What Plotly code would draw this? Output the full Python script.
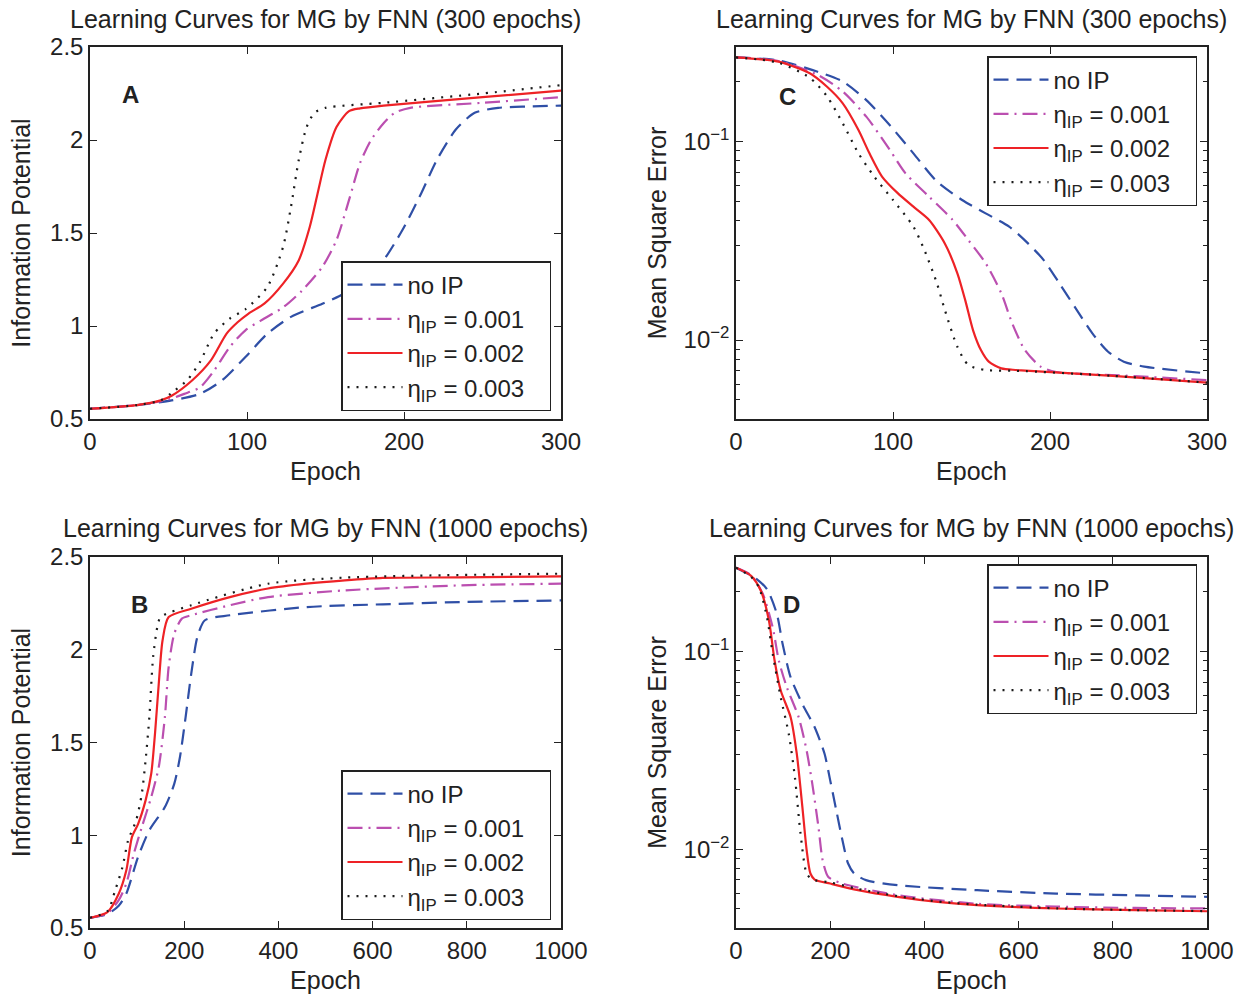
import plotly.graph_objects as go
import numpy as np

# ---------------- data ----------------
series_names = ["no IP", "η<sub>IP</sub> = 0.001", "η<sub>IP</sub> = 0.002", "η<sub>IP</sub> = 0.003"]

# Panel A: Information Potential, 300 epochs
a_ep_noip = [0, 30, 52, 70, 84, 99, 113, 128, 148, 162, 177, 187, 199, 211, 221, 233, 245, 260, 280, 300]
a_noip = [0.555, 0.575, 0.60, 0.635, 0.707, 0.833, 0.959, 1.049, 1.12, 1.175, 1.265, 1.354, 1.516, 1.714, 1.894, 2.056, 2.146, 2.173, 2.18, 2.185]
a_ep_001 = [0, 30, 50, 60, 70, 79, 89, 99, 111, 123, 135, 148, 157, 165, 172, 179, 187, 194, 204, 250, 300]
a_001 = [0.555, 0.575, 0.605, 0.635, 0.67, 0.76, 0.887, 0.977, 1.04, 1.10, 1.19, 1.318, 1.462, 1.678, 1.876, 2.0, 2.09, 2.146, 2.173, 2.2, 2.23]
a_ep_002 = [0, 30, 45, 52, 65, 77, 87, 94, 101, 111, 123, 133, 140, 145, 150, 157, 165, 172, 187, 250, 300]
a_002 = [0.555, 0.575, 0.60, 0.625, 0.707, 0.815, 0.959, 1.02, 1.067, 1.12, 1.228, 1.354, 1.534, 1.714, 1.894, 2.07, 2.155, 2.17, 2.185, 2.23, 2.265]
a_ep_003 = [0, 30, 45, 52, 62, 70, 79, 89, 99, 113, 123, 128, 133, 138, 143, 150, 187, 250, 300]
a_003 = [0.555, 0.575, 0.60, 0.64, 0.71, 0.806, 0.959, 1.04, 1.09, 1.21, 1.426, 1.64, 1.894, 2.07, 2.146, 2.173, 2.2, 2.25, 2.295]

# Panel C: Mean Square Error, 300 epochs
c_ep_noip = [0, 27, 52, 68, 83, 98, 113, 128, 144, 159, 174, 186, 196, 206, 217, 227, 237, 247, 260, 300]
c_noip = [0.266, 0.257, 0.225, 0.201, 0.162, 0.121, 0.0873, 0.063, 0.0508, 0.0435, 0.0373, 0.0307, 0.0253, 0.0193, 0.0142, 0.0108, 0.00873, 0.00778, 0.00735, 0.00679]
c_ep_001 = [0, 27, 52, 68, 83, 98, 108, 123, 138, 148, 159, 169, 176, 184, 194, 204, 250, 300]
c_001 = [0.266, 0.255, 0.217, 0.179, 0.1337, 0.0908, 0.0692, 0.0528, 0.0403, 0.0319, 0.0244, 0.0172, 0.0121, 0.0089, 0.00735, 0.0069, 0.0066, 0.00628]
c_ep_002 = [0, 27, 47, 58, 68, 78, 85, 93, 103, 113, 123, 133, 141, 146, 151, 156, 161, 169, 179, 240, 300]
c_002 = [0.266, 0.253, 0.221, 0.189, 0.156, 0.1145, 0.0873, 0.0667, 0.055, 0.047, 0.0403, 0.0307, 0.0217, 0.0159, 0.0112, 0.0089, 0.00778, 0.0072, 0.00706, 0.0066, 0.0061]
c_ep_003 = [0, 27, 47, 58, 68, 78, 88, 100, 113, 120, 128, 133, 141, 148, 159, 179, 240, 300]
c_003 = [0.266, 0.25, 0.21, 0.169, 0.1236, 0.0873, 0.0667, 0.0508, 0.0373, 0.0284, 0.0193, 0.0142, 0.00925, 0.00748, 0.00706, 0.0070, 0.0066, 0.0061]

# Panel B: Information Potential, 1000 epochs
b_ep_noip = [0, 37, 61, 77, 102, 126, 159, 179, 191, 203, 215, 228, 244, 297, 459, 622, 785, 1000]
b_noip = [0.555, 0.575, 0.62, 0.685, 0.883, 1.027, 1.152, 1.278, 1.422, 1.637, 1.871, 2.069, 2.159, 2.186, 2.23, 2.245, 2.257, 2.266]
b_ep_001 = [0, 37, 61, 77, 93, 110, 130, 146, 159, 167, 179, 195, 215, 297, 378, 541, 785, 1000]
b_001 = [0.555, 0.58, 0.65, 0.739, 0.9, 1.044, 1.206, 1.368, 1.637, 1.907, 2.087, 2.168, 2.186, 2.24, 2.284, 2.32, 2.347, 2.356]
b_ep_002 = [0, 37, 61, 77, 89, 102, 118, 130, 138, 146, 154, 167, 215, 297, 378, 459, 541, 622, 785, 1000]
b_002 = [0.555, 0.586, 0.685, 0.81, 0.99, 1.06, 1.188, 1.332, 1.548, 1.817, 2.05, 2.176, 2.221, 2.284, 2.33, 2.356, 2.374, 2.387, 2.39, 2.396]
b_ep_003 = [0, 37, 53, 69, 81, 98, 110, 118, 126, 134, 143, 150, 215, 378, 541, 785, 1000]
b_003 = [0.555, 0.59, 0.70, 0.829, 0.973, 1.08, 1.224, 1.404, 1.637, 1.961, 2.123, 2.176, 2.24, 2.356, 2.389, 2.403, 2.41]

# Panel D: Mean Square Error, 1000 epochs
d_ep_noip = [0, 40, 66, 87, 99, 116, 141, 167, 188, 200, 213, 226, 238, 251, 276, 343, 512, 680, 848, 1000]
d_noip = [0.265, 0.236, 0.206, 0.154, 0.109, 0.074, 0.0542, 0.0414, 0.0304, 0.0223, 0.0157, 0.0111, 0.00847, 0.00754, 0.00698, 0.00658, 0.00621, 0.00597, 0.00585, 0.00575]
d_ep_001 = [0, 32, 57, 78, 91, 108, 133, 150, 162, 175, 184, 196, 226, 343, 512, 680, 848, 1000]
d_001 = [0.265, 0.243, 0.195, 0.132, 0.0897, 0.0658, 0.0465, 0.0315, 0.0214, 0.013, 0.0088, 0.00725, 0.00671, 0.00586, 0.0053, 0.00513, 0.00505, 0.00502]
d_ep_002 = [0, 32, 53, 70, 82, 95, 116, 129, 141, 150, 158, 167, 200, 259, 343, 428, 512, 680, 848, 1000]
d_002 = [0.265, 0.241, 0.202, 0.143, 0.0897, 0.0634, 0.0465, 0.0304, 0.0163, 0.0099, 0.00754, 0.00703, 0.00671, 0.00621, 0.00575, 0.00542, 0.00522, 0.00502, 0.00492, 0.00486]
d_ep_003 = [0, 32, 49, 66, 78, 95, 112, 125, 137, 150, 162, 200, 259, 343, 428, 512, 680, 848, 1000]
d_003 = [0.265, 0.238, 0.21, 0.148, 0.097, 0.0586, 0.0383, 0.0232, 0.012, 0.00754, 0.00703, 0.0068, 0.0063, 0.0058, 0.00545, 0.00525, 0.00503, 0.00492, 0.00487]

ip_ticks = [0.5, 1, 1.5, 2, 2.5]
ip_ticktext = ["0.5", "1", "1.5", "2", "2.5"]
mse_ticks = [0.01, 0.1]
mse_ticktext = ["10<sup>−2</sup>", "10<sup>−1</sup>"]
mse_minor = [0.005, 0.006, 0.007, 0.008, 0.009, 0.02, 0.03, 0.04, 0.05, 0.06, 0.07, 0.08, 0.09, 0.2, 0.3]
x300_ticks = [0, 100, 200, 300]
x1000_ticks = [0, 200, 400, 600, 800, 1000]

# ---------------- styles ----------------
FONT = "Liberation Sans, Arial, Helvetica, sans-serif"
styles = [
    dict(color="#2f4fa6", width=2.2, dash="15px,8px"),
    dict(color="#bb4fb0", width=2.2, dash="15px,6px,2px,6px"),
    dict(color="#ee2226", width=2.2, dash="solid"),
    dict(color="#1a1a1a", width=2.2, dash="2px,7px"),
]

panels = [
    ("x", "y", "legend", [(a_ep_noip, a_noip), (a_ep_001, a_001), (a_ep_002, a_002), (a_ep_003, a_003)]),
    ("x2", "y2", "legend2", [(c_ep_noip, c_noip), (c_ep_001, c_001), (c_ep_002, c_002), (c_ep_003, c_003)]),
    ("x3", "y3", "legend3", [(b_ep_noip, b_noip), (b_ep_001, b_001), (b_ep_002, b_002), (b_ep_003, b_003)]),
    ("x4", "y4", "legend4", [(d_ep_noip, d_noip), (d_ep_001, d_001), (d_ep_002, d_002), (d_ep_003, d_003)]),
]

PAD = "\u00a0\u00a0\u00a0"
fig = go.Figure()
for xa, ya, lg, data in panels:
    for i, (ep, val) in enumerate(data):
        fig.add_trace(go.Scatter(
            x=ep, y=val, mode="lines", name=series_names[i] + PAD,
            line=dict(shape="spline", smoothing=0.7, **styles[i]),
            xaxis=xa, yaxis=ya, legend=lg, showlegend=True,
        ))

W, H = 1241, 996
def px(x): return x / W
def py(y): return 1 - y / H

xl = [px(90), px(561)]
xr = [px(736), px(1207)]
yt = [py(419), py(47)]
yb = [py(928), py(557)]

axis_common = dict(
    showline=True, linecolor="#222", linewidth=1.5, mirror="allticks",
    ticks="inside", ticklen=7, tickwidth=1, tickcolor="#222",
    showgrid=False, zeroline=False, automargin=False,
    tickfont=dict(family=FONT, size=24, color="#222"),
)
title_font = dict(family=FONT, size=25, color="#222")

def xaxis(domain, anchor, rng, ticks):
    return dict(axis_common, domain=domain, anchor=anchor, range=rng,
                tickvals=ticks, ticktext=[str(t) for t in ticks],
                title=dict(text="Epoch", font=title_font, standoff=9))

def ip_yaxis(domain, anchor):
    return dict(axis_common, domain=domain, anchor=anchor, range=[0.5, 2.5],
                tickvals=ip_ticks, ticktext=ip_ticktext,
                title=dict(text="Information Potential", font=title_font, standoff=12))

def mse_yaxis(domain, anchor):
    return dict(axis_common, domain=domain, anchor=anchor, type="log",
                range=[np.log10(0.004), np.log10(0.3)],
                tickvals=mse_ticks, ticktext=mse_ticktext,
                minor=dict(tickvals=mse_minor, ticks="inside", ticklen=4, tickcolor="#222"),
                title=dict(text="Mean Square Error", font=title_font, standoff=10))

legend_common = dict(
    bgcolor="white", bordercolor="#222", borderwidth=1.5,
    font=dict(family=FONT, size=24, color="#222"),
    xanchor="left", yanchor="top", tracegroupgap=0, itemwidth=55,
)

fig.update_layout(
    width=W, height=H,
    margin=dict(l=0, r=0, t=0, b=0, autoexpand=False),
    paper_bgcolor="white", plot_bgcolor="white",
    font=dict(family=FONT, color="#222"),
    xaxis=xaxis(xl, "y", [0, 300], x300_ticks),
    yaxis=ip_yaxis(yt, "x"),
    xaxis2=xaxis(xr, "y2", [0, 300], x300_ticks),
    yaxis2=mse_yaxis(yt, "x2"),
    xaxis3=xaxis(xl, "y3", [0, 1000], x1000_ticks),
    yaxis3=ip_yaxis(yb, "x3"),
    xaxis4=xaxis(xr, "y4", [0, 1000], x1000_ticks),
    yaxis4=mse_yaxis(yb, "x4"),
    legend=dict(legend_common, x=px(341), y=py(261)),
    legend2=dict(legend_common, x=px(987), y=py(56)),
    legend3=dict(legend_common, x=px(341), y=py(770)),
    legend4=dict(legend_common, x=px(987), y=py(564)),
)

titles = [
    ("Learning Curves for MG by FNN (300 epochs)", (xl[0] + xl[1]) / 2, py(19)),
    ("Learning Curves for MG by FNN (300 epochs)", (xr[0] + xr[1]) / 2, py(19)),
    ("Learning Curves for MG by FNN (1000 epochs)", (xl[0] + xl[1]) / 2, py(528)),
    ("Learning Curves for MG by FNN (1000 epochs)", (xr[0] + xr[1]) / 2, py(528)),
]
for text, x, y in titles:
    fig.add_annotation(text=text, x=x, y=y, xref="paper", yref="paper",
                       xanchor="center", yanchor="middle", showarrow=False,
                       font=dict(family=FONT, size=25, color="#222"))

letters = [("A", 130, 95), ("B", 139, 604), ("C", 787, 97), ("D", 791, 604)]
for t, x, y in letters:
    fig.add_annotation(text=f"<b>{t}</b>", x=px(x), y=py(y), xref="paper", yref="paper",
                       xanchor="center", yanchor="middle", showarrow=False,
                       font=dict(family=FONT, size=24, color="#222"))

fig.write_html("out.html",
               config={"displayModeBar": False},
               post_script="document.body.style.margin='0';document.body.style.padding='0';document.body.style.overflow='hidden';")
